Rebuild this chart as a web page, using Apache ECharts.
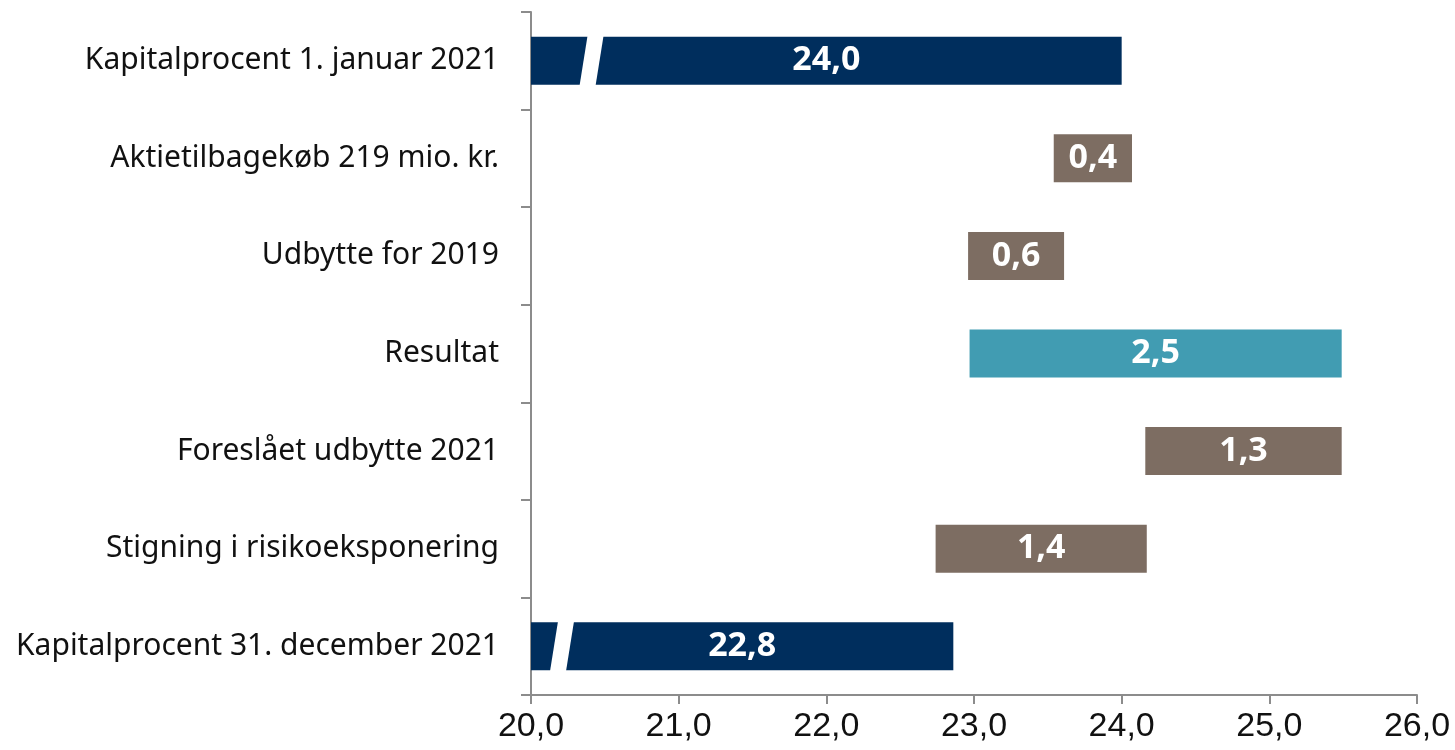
<!DOCTYPE html>
<html>
<head>
<meta charset="utf-8">
<title>Kapitalprocent</title>
<script src="https://cdn.jsdelivr.net/npm/echarts@6/dist/echarts.min.js"></script>
<style>
    html, body { margin: 0; padding: 0; background: #fff; }
    #main { width: 1455px; height: 750px; }
</style>
</head>
<body>
<div id="main"></div>
<script>
// kategorier (oppefra og ned)
var categories = [
    'Kapitalprocent 1. januar 2021',
    'Aktietilbagekøb 219 mio. kr.',
    'Udbytte for 2019',
    'Resultat',
    'Foreslået udbytte 2021',
    'Stigning i risikoeksponering',
    'Kapitalprocent 31. december 2021'
];
// start og slut for hver bjaelke, aflaest paa x-aksen
var barStart = [20, 23.54, 22.96, 22.97, 24.16, 22.74, 20];
var barEnd = [24.0, 24.07, 23.61, 25.49, 25.49, 24.17, 22.86];
// tekst i bjaelkerne
var barLabels = ['24,0', '0,4', '0,6', '2,5', '1,3', '1,4', '22,8'];
// type: niveau, fradrag eller tillaeg
var barType = ['level', 'minus', 'minus', 'plus', 'minus', 'minus', 'level'];
// hvor aksebruddet sidder paa de to lange bjaelker
var breakAt = [[20.41, 0], [20.21, 6]];
var xTicks = [20, 21, 22, 23, 24, 25, 26];

(function (win) {
    var colors = {
        level: '#002e5d',
        minus: '#7d6d62',
        plus: '#419cb2'
    };
    var chart = {
        init: function () {
            this.draw();
        },
        draw: function () {
            var base = [];
            var size = [];
            for (var i = 0; i < categories.length; i++) {
                base.push(barStart[i]);
                size.push({
                    value: +(barEnd[i] - barStart[i]).toFixed(2),
                    itemStyle: { color: colors[barType[i]] }
                });
            }

            var myChart = echarts.init(document.getElementById('main'));
            var option = {
                animation: false,
                grid: {
                    left: 531,
                    right: 38,
                    top: 12,
                    bottom: 55
                },
                xAxis: {
                    type: 'value',
                    min: xTicks[0],
                    max: xTicks[xTicks.length - 1],
                    interval: 1,
                    splitLine: { show: false },
                    axisLine: { show: true, lineStyle: { color: '#8c8c8c', width: 2 } },
                    axisTick: { show: true, length: 9, lineStyle: { color: '#8c8c8c', width: 2 } },
                    axisLabel: {
                        margin: 15,
                        color: '#111',
                        fontFamily: 'Liberation Sans',
                        fontSize: 34,
                        formatter: function (v) {
                            return v.toFixed(1).replace('.', ',');
                        }
                    }
                },
                yAxis: {
                    type: 'category',
                    inverse: true,
                    data: categories,
                    axisLine: { show: true, lineStyle: { color: '#8c8c8c', width: 2 } },
                    axisTick: { show: true, length: 10, lineStyle: { color: '#8c8c8c', width: 2 } },
                    axisLabel: {
                        margin: 32,
                        color: '#111',
                        fontFamily: 'Noto Sans',
                        fontSize: 30
                    }
                },
                series: [{
                    // usynlig fod
                    type: 'bar',
                    stack: 'w',
                    barWidth: 48,
                    silent: true,
                    itemStyle: { color: 'transparent' },
                    data: base
                }, {
                    type: 'bar',
                    stack: 'w',
                    barWidth: 48,
                    data: size,
                    label: {
                        show: true,
                        position: 'inside',
                        color: '#fff',
                        fontFamily: 'Open Sans',
                        fontWeight: 'bold',
                        fontSize: 34,
                        formatter: function (p) {
                            return barLabels[p.dataIndex];
                        }
                    }
                }, {
                    // hvid skraa stribe = aksebrud
                    type: 'custom',
                    z: 5,
                    data: breakAt,
                    encode: { x: 0, y: 1 },
                    renderItem: function (params, api) {
                        var c = api.coord([api.value(0), api.value(1)]);
                        var h = 25;
                        var w = 8;
                        var s = 4;
                        return {
                            type: 'polygon',
                            shape: {
                                points: [
                                    [c[0] - w + s, c[1] - h],
                                    [c[0] + w + s, c[1] - h],
                                    [c[0] + w - s, c[1] + h],
                                    [c[0] - w - s, c[1] + h]
                                ]
                            },
                            style: { fill: '#fff' }
                        };
                    }
                }]
            };
            myChart.setOption(option);
        }
    };
    chart.init();
})(window);
</script>
</body>
</html>
